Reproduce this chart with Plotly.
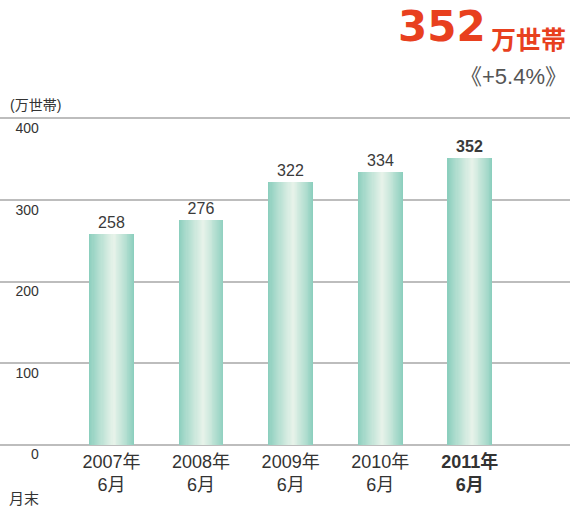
import plotly.graph_objects as go

# ---- data ----
categories = ["2007年<br>6月", "2008年<br>6月", "2009年<br>6月", "2010年<br>6月", "<b>2011年<br>6月</b>"]
values = [258, 276, 322, 334, 352]
value_labels = ["258", "276", "322", "334", "<b>352</b>"]
y_ticks = [0, 100, 200, 300, 400]
y_tick_labels = ["0", "100", "200", "300", "400"]
headline_value = "352"
headline_unit = "万世帯"
headline_change = "《+5.4%》"
unit_label = "(万世帯)"
x_unit_label = "月末"

W, H = 570, 524
x = list(range(len(categories)))

# plot-area geometry (pixels)
PX_PER_UNIT = 0.8175
Y0_PX = 445.0
PAD = 3  # data units of padding so edge grid lines are drawn
top_px = Y0_PX - (400 + PAD) * PX_PER_UNIT
bot_px = Y0_PX + PAD * PX_PER_UNIT
plot_h = bot_px - top_px


def px_x(px):
    return px / W


def px_y(py):
    return (bot_px - py) / plot_h


fig = go.Figure()

# gradient bars: overlaid layers, from teal edges to light centre
edge = (140, 207, 190)
centre = (234, 244, 235)
N = 22
bar_w = 0.5
light_pos = 0.55  # fraction of bar width where gradient is lightest
c = -bar_w / 2 + light_pos * bar_w
for k in range(N):
    t = k / N
    tt = t ** 0.9
    col = tuple(round(edge[i] + (centre[i] - edge[i]) * tt) for i in range(3))
    left = c - (1 - t) * light_pos * bar_w
    width = (1 - t) * bar_w
    fig.add_trace(go.Bar(
        x=x, y=values,
        width=[width] * len(x),
        offset=[left] * len(x),
        marker=dict(color="rgb(%d,%d,%d)" % col, line=dict(width=0)),
        text=value_labels if k == 0 else None,
        textposition="outside" if k == 0 else "none",
        textfont=dict(family="Liberation Sans Narrow, Liberation Sans, Arial", size=16, color="#3a3a3a"),
        cliponaxis=False,
        hoverinfo="skip",
        showlegend=False,
    ))

fig.update_layout(
    width=W, height=H,
    margin=dict(l=0, r=0, t=top_px, b=H - bot_px, pad=0),
    paper_bgcolor="white", plot_bgcolor="white",
    barmode="overlay",
    bargap=0,
    font=dict(family="Liberation Sans, Noto Sans CJK JP", color="#333333"),
    xaxis=dict(
        tickmode="array", tickvals=x, ticktext=categories,
        range=[-1.244, 5.118],
        showgrid=False, zeroline=False, showline=False, ticks="",
        automargin=False,
        ticklabelstandoff=2,
        tickfont=dict(family="Liberation Sans Narrow, Liberation Sans, Noto Sans CJK JP", size=18, color="#333333"),
    ),
    yaxis=dict(
        range=[-PAD, 400 + PAD],
        tickmode="array", tickvals=y_ticks, ticktext=y_tick_labels,
        showgrid=True, gridcolor="#bdbdbd", gridwidth=2,
        zeroline=False, showline=False, ticks="",
        anchor="free", position=0.068,
        automargin=False,
        ticklabelshift=10,
        tickfont=dict(family="Liberation Sans", size=14, color="#333333"),
    ),
    hovermode=False,
)

# headline texts
fig.add_annotation(xref="paper", yref="paper", x=px_x(488), y=px_y(26), xanchor="right", yanchor="middle",
                   text=headline_value, showarrow=False,
                   font=dict(family="DejaVu Sans", size=42, color="#e8401e", weight="bold"))
fig.add_annotation(xref="paper", yref="paper", x=px_x(489), y=px_y(37.5), xanchor="left", yanchor="middle",
                   text="<b>" + headline_unit + "</b>", showarrow=False,
                   font=dict(family="Noto Sans CJK JP", size=25, color="#e8401e"))
fig.add_annotation(xref="paper", yref="paper", x=px_x(569), y=px_y(76), xanchor="right", yanchor="middle",
                   text=headline_change, showarrow=False,
                   font=dict(family="Liberation Sans, Noto Sans CJK JP", size=22, color="#555555"))
fig.add_annotation(xref="paper", yref="paper", x=px_x(8), y=px_y(105), xanchor="left", yanchor="middle",
                   text=unit_label, showarrow=False,
                   font=dict(family="Liberation Sans, Noto Sans CJK JP", size=14, color="#333333"))
fig.add_annotation(xref="paper", yref="paper", x=px_x(7), y=px_y(498), xanchor="left", yanchor="middle",
                   text=x_unit_label, showarrow=False,
                   font=dict(family="Noto Sans CJK JP", size=15, color="#333333"))

fig.write_html("out.html", config={"displayModeBar": False},
               post_script="document.body.style.margin='0';")
